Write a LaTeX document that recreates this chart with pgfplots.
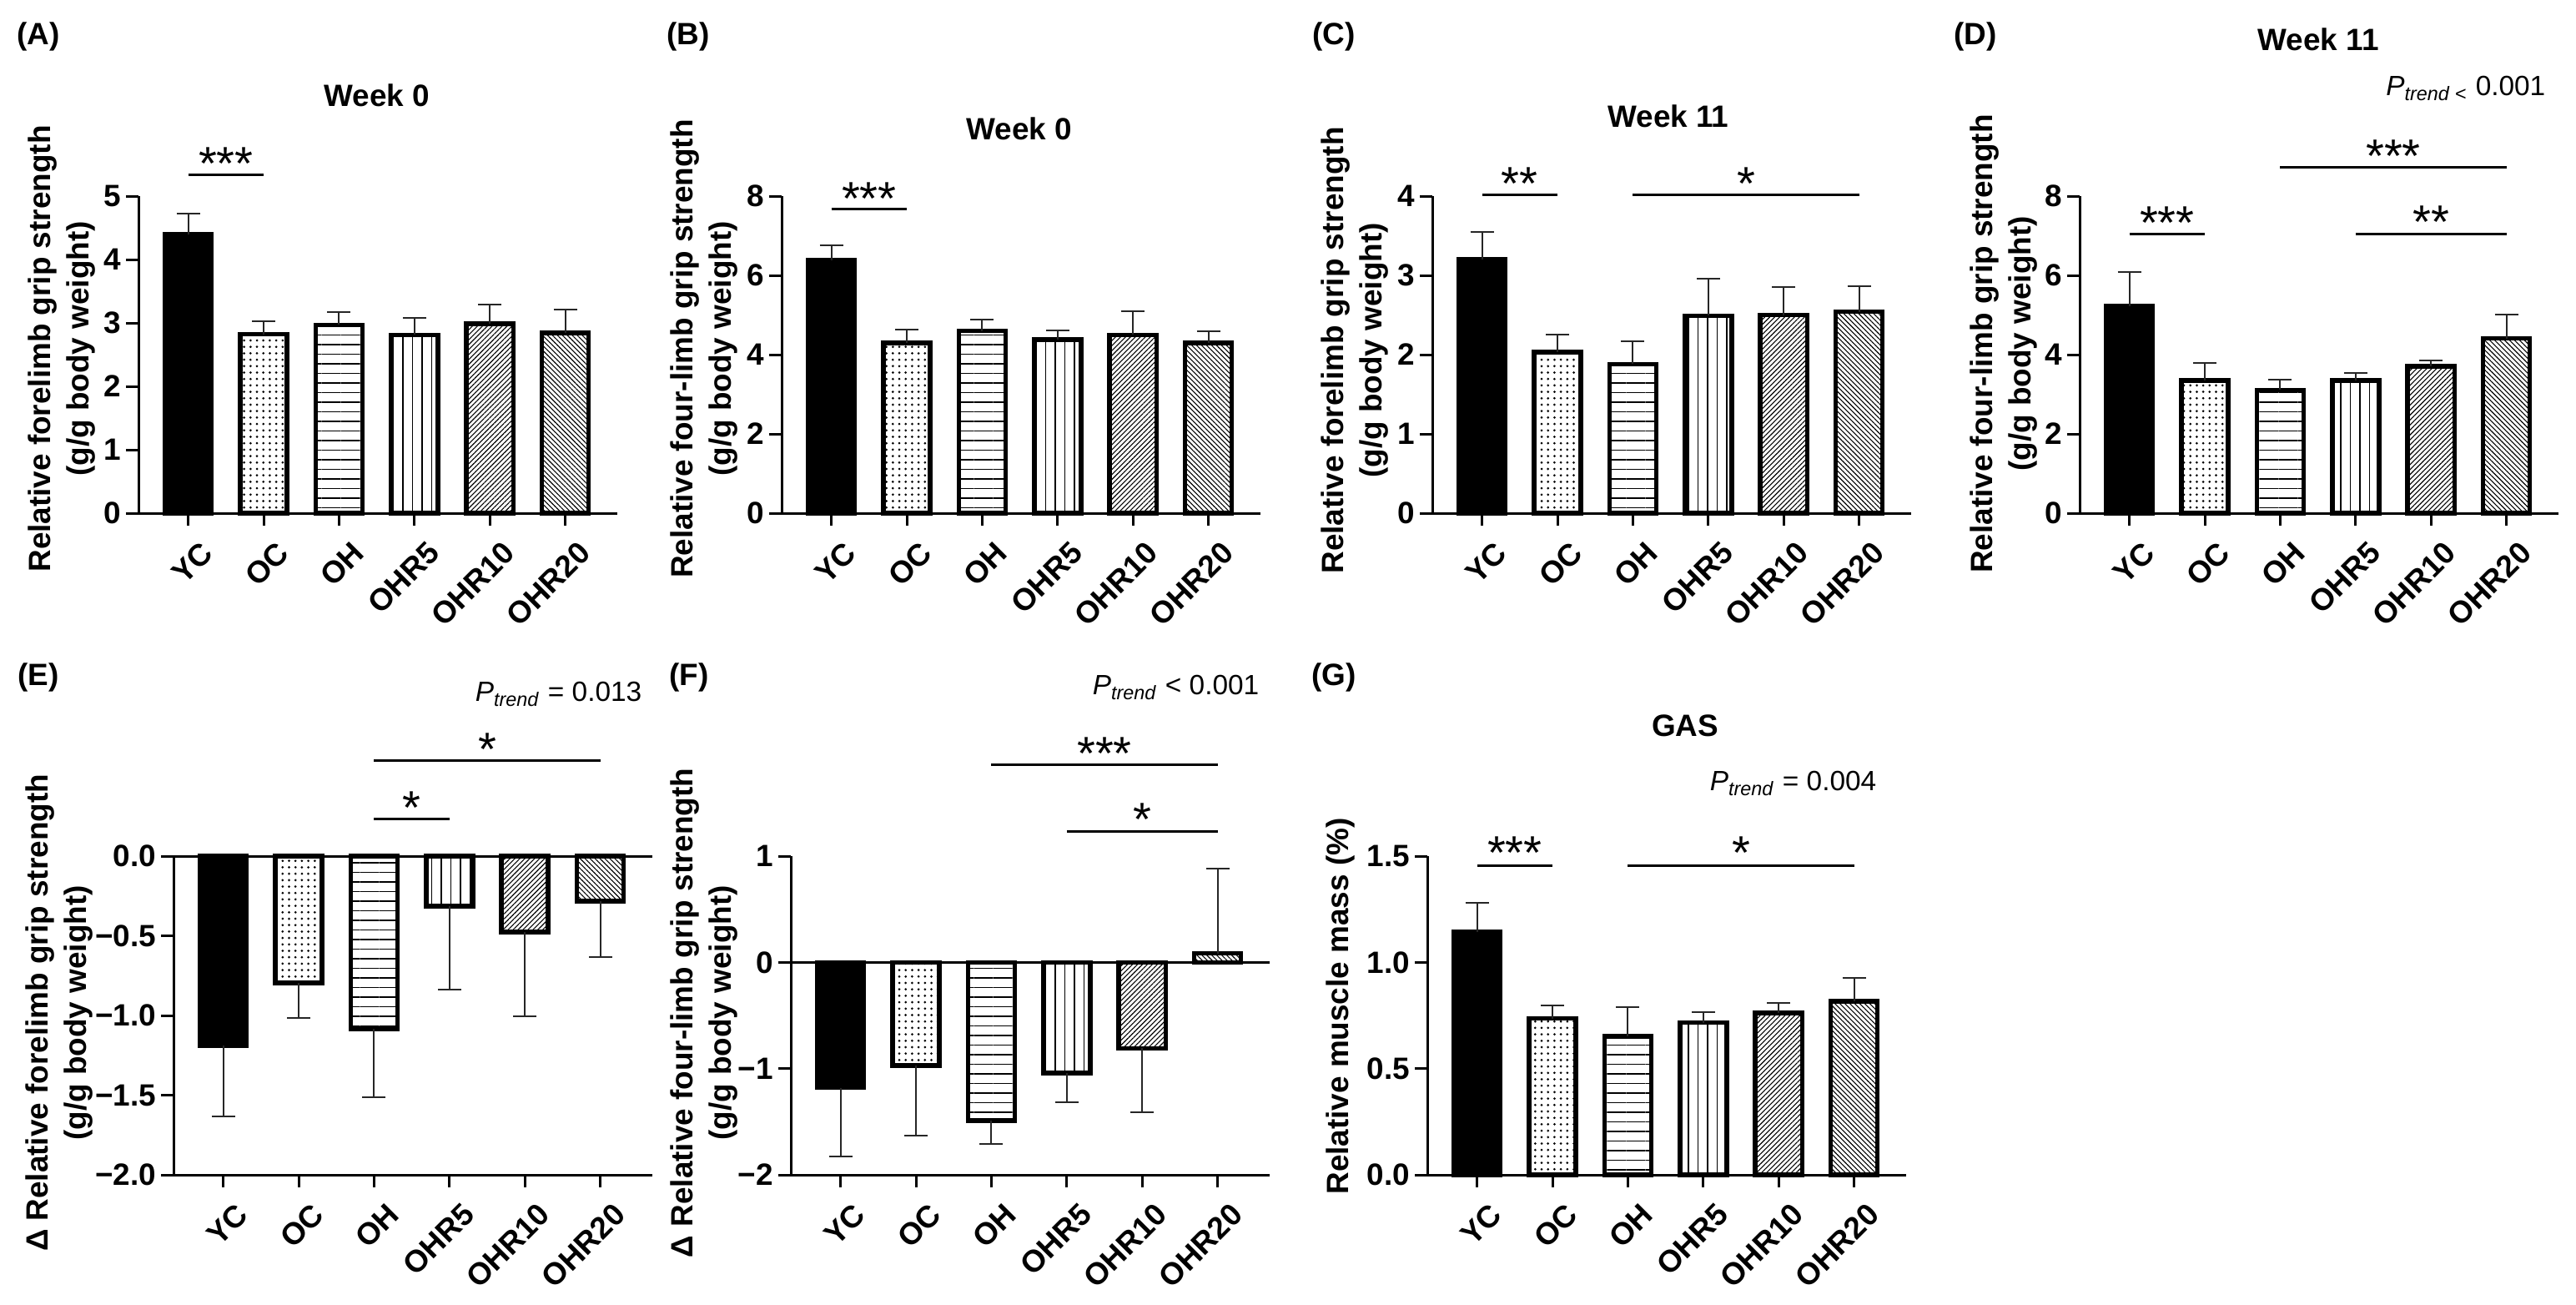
\documentclass[border=0pt]{standalone}
\usepackage{fontspec}
\setmainfont{Liberation Sans}
\usepackage{pgfplots}
\pgfplotsset{compat=1.18}
\usetikzlibrary{patterns.meta}

\newcommand{\lbl}{\fontsize{10.5}{13}\selectfont\bfseries}
\newcommand{\ptr}{\fontsize{9.5}{11}\selectfont}

\pgfplotsset{
  gp/.style={
    scale only axis,
    xmin=-0.66, xmax=5.69,
    axis x line=bottom, axis y line=left,
    axis line style={line width=0.3mm, -},
    every tick/.style={black, line width=0.3mm},
    major tick length=1.5mm,
    tick align=outside,
    xtick={0,...,5},
    xticklabels={YC,OC,OH,OHR5,OHR10,OHR20},
    xticklabel style={rotate=45, anchor=east, font=\lbl, inner sep=1pt,
                      xshift=0.2mm, yshift=-3.5mm},
    yticklabel style={font=\lbl, inner sep=1.5pt},
    clip=false,
  },
  top/.style={gp, width=57.4mm, height=38mm},
  bot/.style={gp, width=57.4mm, height=38.2mm},
  bx/.style={ybar, bar width=0.62, bar shift=0pt, draw=black, line width=0.55mm},
  fYC/.style={bx, fill=black},
  fOC/.style={bx, pattern={Dots[distance=0.77mm, radius=0.15mm]}, pattern color=black},
  fOH/.style={bx, pattern={Lines[angle=0, distance=1.15mm, line width=0.15mm]}},
  fR5/.style={bx, pattern={Lines[angle=90, distance=1.15mm, line width=0.15mm]}},
  fR10/.style={bx, pattern={Lines[angle=45, distance=0.42mm, line width=0.11mm]}},
  fR20/.style={bx, pattern={Lines[angle=-45, distance=0.42mm, line width=0.11mm]}},
  eu/.style={error bars/y dir=plus, error bars/y explicit,
    error bars/error bar style={line width=0.2mm, black!85},
    error bars/error mark options={rotate=90, mark size=1.4mm, line width=0.2mm, black!85}},
  ed/.style={error bars/y dir=minus, error bars/y explicit,
    error bars/error bar style={line width=0.2mm, black!85},
    error bars/error mark options={rotate=90, mark size=1.4mm, line width=0.2mm, black!85}},
}
\tikzset{
  sigl/.style={line width=0.3mm},
  star/.style={font=\fontsize{16}{16}\selectfont, inner sep=0pt, anchor=base, yshift=-3.25mm},
  ptrend/.style={font=\ptr, anchor=east, inner sep=0pt},
}

\begin{document}
\begin{tikzpicture}
\path[use as bounding box] (0,0) rectangle (308.8mm,156.3mm);

% ---------- (A) forelimb, week 0
\begin{axis}[top, at={(16.6mm,94.8mm)}, anchor=south west,
  ymin=0, ymax=5, ytick={0,1,2,3,4,5}, yticklabels={0,1,2,3,4,5}]
\addplot[fYC, eu] coordinates {(0,4.40) +- (0,0.33)};
\addplot[fOC, eu] coordinates {(1,2.82) +- (0,0.20)};
\addplot[fOH, eu] coordinates {(2,2.97) +- (0,0.20)};
\addplot[fR5, eu] coordinates {(3,2.81) +- (0,0.27)};
\addplot[fR10, eu] coordinates {(4,2.99) +- (0,0.30)};
\addplot[fR20, eu] coordinates {(5,2.84) +- (0,0.37)};
\draw[sigl] (axis cs:0,5.33) -- (axis cs:1,5.33);
\node[star] at (axis cs:0.5,5.68) {***};
\end{axis}

% ---------- (B) four-limb, week 0
\begin{axis}[top, at={(93.7mm,94.8mm)}, anchor=south west,
  ymin=0, ymax=8, ytick={0,2,4,6,8}, yticklabels={0,2,4,6,8}]
\addplot[fYC, eu] coordinates {(0,6.38) +- (0,0.38)};
\addplot[fOC, eu] coordinates {(1,4.30) +- (0,0.34)};
\addplot[fOH, eu] coordinates {(2,4.60) +- (0,0.29)};
\addplot[fR5, eu] coordinates {(3,4.38) +- (0,0.24)};
\addplot[fR10, eu] coordinates {(4,4.50) +- (0,0.59)};
\addplot[fR20, eu] coordinates {(5,4.30) +- (0,0.30)};
\draw[sigl] (axis cs:0,7.68) -- (axis cs:1,7.68);
\node[star] at (axis cs:0.5,8.22) {***};
\end{axis}

% ---------- (C) forelimb, week 11
\begin{axis}[top, at={(171.7mm,94.8mm)}, anchor=south west,
  ymin=0, ymax=4, ytick={0,1,2,3,4}, yticklabels={0,1,2,3,4}]
\addplot[fYC, eu] coordinates {(0,3.20) +- (0,0.35)};
\addplot[fOC, eu] coordinates {(1,2.03) +- (0,0.22)};
\addplot[fOH, eu] coordinates {(2,1.88) +- (0,0.29)};
\addplot[fR5, eu] coordinates {(3,2.49) +- (0,0.47)};
\addplot[fR10, eu] coordinates {(4,2.50) +- (0,0.35)};
\addplot[fR20, eu] coordinates {(5,2.54) +- (0,0.32)};
\draw[sigl] (axis cs:0,4.02) -- (axis cs:1,4.02);
\node[star] at (axis cs:0.5,4.30) {**};
\draw[sigl] (axis cs:2,4.02) -- (axis cs:5,4.02);
\node[star] at (axis cs:3.5,4.30) {*};
\end{axis}

% ---------- (D) four-limb, week 11
\begin{axis}[top, at={(249.3mm,94.8mm)}, anchor=south west,
  ymin=0, ymax=8, ytick={0,2,4,6,8}, yticklabels={0,2,4,6,8}]
\addplot[fYC, eu] coordinates {(0,5.22) +- (0,0.86)};
\addplot[fOC, eu] coordinates {(1,3.35) +- (0,0.45)};
\addplot[fOH, eu] coordinates {(2,3.11) +- (0,0.26)};
\addplot[fR5, eu] coordinates {(3,3.35) +- (0,0.18)};
\addplot[fR10, eu] coordinates {(4,3.71) +- (0,0.15)};
\addplot[fR20, eu] coordinates {(5,4.41) +- (0,0.60)};
\draw[sigl] (axis cs:0,7.04) -- (axis cs:1,7.04);
\node[star] at (axis cs:0.5,7.60) {***};
\draw[sigl] (axis cs:3,7.04) -- (axis cs:5,7.04);
\node[star] at (axis cs:4,7.63) {**};
\draw[sigl] (axis cs:2,8.72) -- (axis cs:5,8.72);
\node[star] at (axis cs:3.5,9.29) {***};
\end{axis}

% ---------- (E) change in forelimb strength
\begin{axis}[bot, at={(20.8mm,15.5mm)}, anchor=south west,
  ymin=-2, ymax=0, ytick={-2,-1.5,-1,-0.5,0},
  yticklabels={−2.0,−1.5,−1.0,−0.5,0.0}]
\addplot[fYC, ed] coordinates {(0,-1.190) +- (0,0.445)};
\addplot[fOC, ed] coordinates {(1,-0.795) +- (0,0.220)};
\addplot[fOH, ed] coordinates {(2,-1.083) +- (0,0.430)};
\addplot[fR5, ed] coordinates {(3,-0.315) +- (0,0.525)};
\addplot[fR10, ed] coordinates {(4,-0.477) +- (0,0.530)};
\addplot[fR20, ed] coordinates {(5,-0.283) +- (0,0.350)};
\draw[line width=0.3mm] (axis cs:-0.66,0) -- (axis cs:5.69,0);
\draw[sigl] (axis cs:2,0.597) -- (axis cs:5,0.597);
\node[star] at (axis cs:3.5,0.74) {*};
\draw[sigl] (axis cs:2,0.232) -- (axis cs:3,0.232);
\node[star] at (axis cs:2.5,0.37) {*};
\end{axis}

% ---------- (F) change in four-limb strength
\begin{axis}[bot, at={(94.8mm,15.5mm)}, anchor=south west,
  ymin=-2, ymax=1, ytick={-2,-1,0,1}, yticklabels={−2,−1,0,1}]
\addplot[fYC, ed] coordinates {(0,-1.18) +- (0,0.65)};
\addplot[fOC, ed] coordinates {(1,-0.97) +- (0,0.66)};
\addplot[fOH, ed] coordinates {(2,-1.49) +- (0,0.22)};
\addplot[fR5, ed] coordinates {(3,-1.04) +- (0,0.28)};
\addplot[fR10, ed] coordinates {(4,-0.81) +- (0,0.60)};
\addplot[fR20, eu] coordinates {(5,0.084) +- (0,0.80)};
\draw[line width=0.3mm] (axis cs:-0.66,0) -- (axis cs:5.69,0);
\draw[sigl] (axis cs:2,1.86) -- (axis cs:5,1.86);
\node[star] at (axis cs:3.5,2.07) {***};
\draw[sigl] (axis cs:3,1.23) -- (axis cs:5,1.23);
\node[star] at (axis cs:4,1.45) {*};
\end{axis}

% ---------- (G) gastrocnemius mass
\begin{axis}[bot, at={(171.1mm,15.5mm)}, anchor=south west,
  ymin=0, ymax=1.5, ytick={0,0.5,1,1.5}, yticklabels={0.0,0.5,1.0,1.5}]
\addplot[fYC, eu] coordinates {(0,1.142) +- (0,0.138)};
\addplot[fOC, eu] coordinates {(1,0.736) +- (0,0.060)};
\addplot[fOH, eu] coordinates {(2,0.652) +- (0,0.138)};
\addplot[fR5, eu] coordinates {(3,0.716) +- (0,0.048)};
\addplot[fR10, eu] coordinates {(4,0.762) +- (0,0.046)};
\addplot[fR20, eu] coordinates {(5,0.816) +- (0,0.110)};
\draw[sigl] (axis cs:0,1.456) -- (axis cs:1,1.456);
\node[star] at (axis cs:0.5,1.566) {***};
\draw[sigl] (axis cs:2,1.456) -- (axis cs:5,1.456);
\node[star] at (axis cs:3.5,1.566) {*};
\end{axis}

% ---------- panel letters
\foreach \t/\x/\y in {A/4.6/151.9, B/82.5/151.9, C/159.9/151.9, D/236.8/151.9,
                      E/4.6/75.1, F/82.6/75.1, G/159.9/75.1}
  \node[font=\lbl] at (\x mm,\y mm) {(\t)};

% ---------- titles
\node[font=\lbl] at (45.2mm,144.9mm) {Week 0};
\node[font=\lbl] at (122.2mm,140.9mm) {Week 0};
\node[font=\lbl] at (200.0mm,142.4mm) {Week 11};
\node[font=\lbl] at (277.9mm,151.6mm) {Week 11};
\node[font=\lbl] at (202.0mm,69.3mm) {GAS};

% ---------- trend tests
\node[ptrend] at (305.2mm,145.7mm) {\textit{P}\textsubscript{\textit{trend} <} 0.001};
\node[ptrend] at (77.0mm,73.1mm) {\textit{P}\textsubscript{\textit{trend}} = 0.013};
\node[ptrend] at (151.0mm,73.9mm) {\textit{P}\textsubscript{\textit{trend}} < 0.001};
\node[ptrend] at (225.0mm,62.4mm) {\textit{P}\textsubscript{\textit{trend}} = 0.004};

% ---------- y-axis titles
\node[font=\lbl, rotate=90, align=center] at (7.4mm,114.5mm) {Relative forelimb grip strength\\(g/g body weight)};
\node[font=\lbl, rotate=90, align=center] at (84.4mm,114.5mm) {Relative four-limb grip strength\\(g/g body weight)};
\node[font=\lbl, rotate=90, align=center] at (162.4mm,114.3mm) {Relative forelimb grip strength\\(g/g body weight)};
\node[font=\lbl, rotate=90, align=center] at (240.2mm,115.1mm) {Relative four-limb grip strength\\(g/g body weight)};
\node[font=\lbl, rotate=90, align=center] at (7.1mm,34.9mm) {Δ Relative forelimb grip strength\\(g/g body weight)};
\node[font=\lbl, rotate=90, align=center] at (84.4mm,34.9mm) {Δ Relative four-limb grip strength\\(g/g body weight)};
\node[font=\lbl, rotate=90] at (160.7mm,35.7mm) {Relative muscle mass (\%)};
\end{tikzpicture}
\end{document}
